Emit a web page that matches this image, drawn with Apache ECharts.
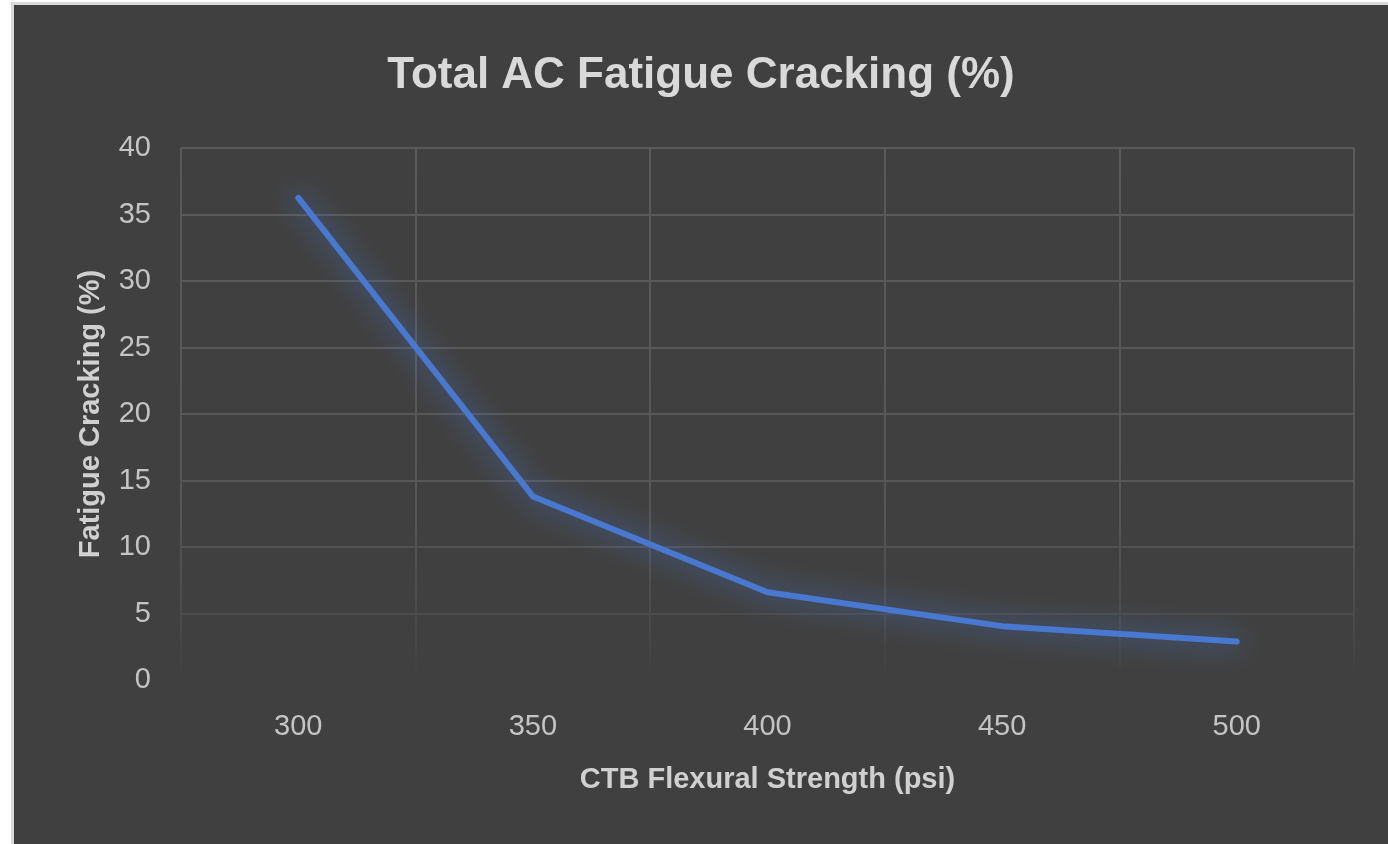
<!DOCTYPE html>
<html>
<head>
<meta charset="utf-8">
<script src="https://cdn.jsdelivr.net/npm/echarts@6/dist/echarts.min.js"></script>
<style>
html, body { margin: 0; padding: 0; background: #ffffff; width: 1388px; height: 844px; overflow: hidden; }
#frame {
  position: absolute; left: 11px; top: 2px; width: 1390px; height: 860px;
  border-left: 3px solid #d9d9d9; border-top: 3px solid #d9d9d9;
  background: #404040;
}
#chart { position: absolute; left: 14px; top: 5px; width: 1374px; height: 839px; }
</style>
</head>
<body>
<div id="frame"></div>
<div id="chart"></div>
<script>
// CTB flexural strength (psi) vs total AC fatigue cracking (%)
var strengths = ["300", "350", "400", "450", "500"];
var cracking = [36.25, 13.8, 6.6, 4.05, 2.9];
var yTicks = { min: 0, max: 40, step: 5 };

var myChart = echarts.init(document.getElementById("chart"));

// grid lines fade out towards the bottom of the plot
var gridFade = {
  type: "linear", x: 0, y: 143, x2: 0, y2: 675, global: true,
  colorStops: [
    { offset: 0, color: "#5a5a5a" },
    { offset: 0.68, color: "#575757" },
    { offset: 0.88, color: "#4b4b4b" },
    { offset: 1, color: "#404040" }
  ]
};

var option = {
  backgroundColor: "transparent",
  title: {
    text: "Total AC Fatigue Cracking (%)",
    left: "center",
    top: 44,
    textStyle: { fontFamily: "Liberation Sans", fontWeight: "bold", fontSize: 44, color: "#d9d9d9" }
  },
  grid: { left: 167, right: 34, top: 143, bottom: 164 },
  xAxis: {
    type: "category",
    data: strengths,
    boundaryGap: true,
    name: "CTB Flexural Strength (psi)",
    nameLocation: "middle",
    nameGap: 85,
    nameTextStyle: { fontFamily: "Liberation Sans", fontWeight: "bold", fontSize: 29, color: "#d0d0d0" },
    axisLine: { show: false },
    axisTick: { show: false },
    axisLabel: { fontFamily: "Liberation Sans", fontSize: 29, color: "#c4c4c4", margin: 32 },
    splitLine: { show: true, lineStyle: { color: gridFade, width: 2 } }
  },
  yAxis: {
    type: "value",
    min: yTicks.min,
    max: yTicks.max,
    interval: yTicks.step,
    name: "Fatigue Cracking (%)",
    nameLocation: "middle",
    nameGap: 76,
    nameTextStyle: { fontFamily: "Liberation Sans", fontWeight: "bold", fontSize: 29, color: "#d0d0d0" },
    axisLine: { show: false },
    axisTick: { show: false },
    axisLabel: { fontFamily: "Liberation Sans", fontSize: 29, color: "#c4c4c4", margin: 30 },
    splitLine: { show: true, lineStyle: { color: gridFade, width: 2 } }
  },
  series: [
    {
      type: "line",
      data: cracking,
      symbol: "none",
      lineStyle: {
        color: "#4878d0",
        width: 6,
        cap: "round",
        join: "round",
        shadowColor: "rgba(72,120,208,1)",
        shadowBlur: 28
      }
    }
  ]
};

myChart.setOption(option);
</script>
</body>
</html>
